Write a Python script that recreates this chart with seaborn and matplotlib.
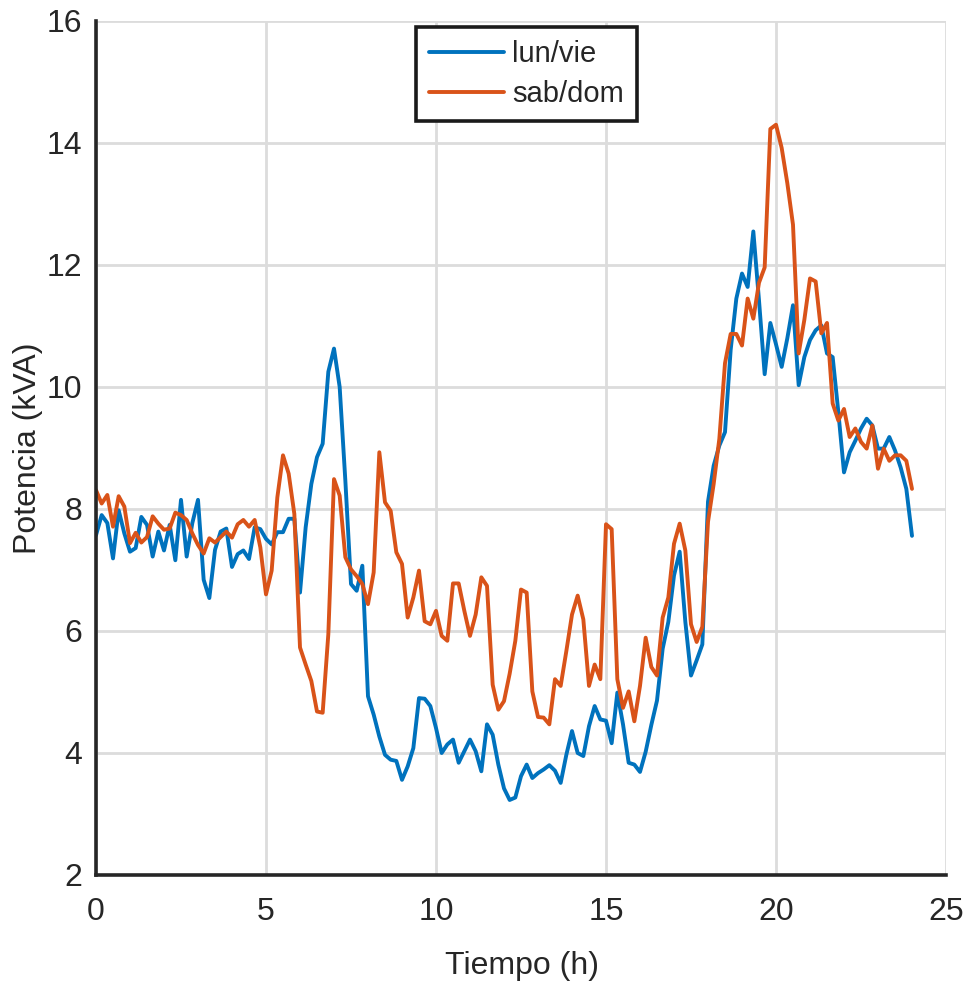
import numpy as np
import pandas as pd
import matplotlib
matplotlib.use("Agg")
import matplotlib.pyplot as plt
import seaborn as sns

# ---- data (10-min resolution, 0 h .. 24 h) ----
lun_vie = [
    7.57, 7.90, 7.77, 7.19, 7.98, 7.60, 7.30, 7.36, 7.87, 7.74,
    7.22, 7.63, 7.32, 7.74, 7.16, 8.15, 7.22, 7.77, 8.15, 6.84,
    6.54, 7.33, 7.63, 7.68, 7.05, 7.26, 7.32, 7.18, 7.70, 7.67,
    7.51, 7.42, 7.62, 7.62, 7.84, 7.84, 6.63, 7.70, 8.41, 8.85,
    9.07, 10.25, 10.63, 10.00, 8.47, 6.77, 6.66, 7.07, 4.93, 4.63,
    4.27, 3.97, 3.89, 3.87, 3.56, 3.78, 4.08, 4.90, 4.89, 4.77,
    4.41, 4.00, 4.14, 4.22, 3.84, 4.03, 4.22, 4.03, 3.70, 4.47,
    4.30, 3.81, 3.42, 3.23, 3.27, 3.62, 3.81, 3.59, 3.67, 3.73,
    3.80, 3.71, 3.51, 3.97, 4.36, 4.00, 3.95, 4.44, 4.77, 4.55,
    4.53, 4.16, 4.99, 4.47, 3.84, 3.81, 3.69, 4.02, 4.46, 4.86,
    5.71, 6.15, 6.91, 7.30, 6.15, 5.27, 5.52, 5.78, 8.12, 8.71,
    9.04, 9.26, 10.61, 11.45, 11.86, 11.64, 12.55, 11.42, 10.21, 11.05,
    10.70, 10.33, 10.80, 11.34, 10.03, 10.49, 10.77, 10.93, 11.01, 10.55,
    10.49, 9.59, 8.60, 8.93, 9.12, 9.32, 9.48, 9.37, 8.99, 8.99,
    9.18, 8.96, 8.68, 8.33, 7.56,
]
sab_dom = [
    8.31, 8.09, 8.23, 7.71, 8.21, 8.04, 7.44, 7.61, 7.45, 7.54,
    7.88, 7.76, 7.66, 7.68, 7.94, 7.90, 7.82, 7.60, 7.41, 7.27,
    7.52, 7.45, 7.54, 7.63, 7.53, 7.75, 7.82, 7.71, 7.82, 7.37,
    6.60, 6.99, 8.19, 8.88, 8.58, 7.92, 5.73, 5.45, 5.18, 4.68,
    4.66, 5.95, 8.49, 8.22, 7.21, 7.01, 6.90, 6.77, 6.44, 6.96,
    8.93, 8.11, 7.97, 7.29, 7.10, 6.22, 6.55, 6.99, 6.16, 6.11,
    6.33, 5.92, 5.84, 6.78, 6.78, 6.33, 5.92, 6.27, 6.88, 6.74,
    5.12, 4.71, 4.85, 5.30, 5.84, 6.68, 6.63, 5.01, 4.59, 4.58,
    4.47, 5.21, 5.10, 5.67, 6.27, 6.58, 6.19, 5.10, 5.45, 5.21,
    7.75, 7.67, 5.21, 4.74, 5.01, 4.52, 5.10, 5.89, 5.41, 5.27,
    6.22, 6.55, 7.43, 7.76, 7.32, 6.11, 5.82, 6.07, 7.79, 8.41,
    9.15, 10.39, 10.87, 10.87, 10.68, 11.45, 11.12, 11.71, 11.96, 14.23,
    14.30, 13.92, 13.34, 12.66, 10.55, 11.10, 11.78, 11.73, 10.88, 11.05,
    9.73, 9.45, 9.64, 9.18, 9.32, 9.10, 8.99, 9.37, 8.66, 8.99,
    8.79, 8.88, 8.88, 8.79, 8.33,
]
tiempo = [i / 6 for i in range(len(lun_vie))]
series_names = ["lun/vie", "sab/dom"]
x_ticks = [0, 5, 10, 15, 20, 25]
y_ticks = [2, 4, 6, 8, 10, 12, 14, 16]
x_label = "Tiempo (h)"
y_label = "Potencia (kVA)"

df = pd.DataFrame({
    "Tiempo": tiempo * 2,
    "Potencia": lun_vie + sab_dom,
    "Serie": [series_names[0]] * len(lun_vie) + [series_names[1]] * len(sab_dom),
})

sns.set_theme(style="white")
plt.rcParams["font.family"] = ["Liberation Sans", "DejaVu Sans"]

fig = plt.figure(figsize=(9.68, 9.83), dpi=100)
ax = fig.add_axes([96 / 968, 108 / 983, 850 / 968, 854 / 983])

sns.lineplot(data=df, x="Tiempo", y="Potencia", hue="Serie",
             palette=["#0072BD", "#D95319"], linewidth=2.8, ax=ax, zorder=3)

ax.set_xlim(0, 25)
ax.set_ylim(2, 16)
ax.set_xticks(x_ticks)
ax.set_yticks(y_ticks)
ax.set_xticklabels([str(t) for t in x_ticks])
ax.set_yticklabels([str(t) for t in y_ticks])
ax.grid(True, color="#dcdcdc", linewidth=2.0, zorder=0)
ax.set_axisbelow(True)

for side in ["top", "right"]:
    ax.spines[side].set_visible(False)
for side in ["left", "bottom"]:
    ax.spines[side].set_color("#262626")
    ax.spines[side].set_linewidth(2.6)
    ax.spines[side].set_zorder(4)

ax.tick_params(axis="both", direction="in", length=9, width=2.6,
               color="#262626", labelsize=23, labelcolor="#262626")
ax.tick_params(axis="x", pad=16)
ax.tick_params(axis="y", pad=10)

ax.set_xlabel(x_label, fontsize=23, color="#262626")
ax.set_ylabel(y_label, fontsize=23, color="#262626")
ax.xaxis.set_label_coords(0.501, -0.106)
ax.yaxis.set_label_coords(-0.08, 0.5)
ax.xaxis.label.set_va("center")
ax.yaxis.label.set_va("center")

leg = ax.legend(loc="upper center", bbox_to_anchor=(0.506, 0.993),
                borderaxespad=0, fontsize=21, frameon=True, fancybox=False,
                framealpha=1, edgecolor="#1a1a1a", handlelength=2.6,
                handletextpad=0.25, labelspacing=0.4, borderpad=0.45,
                title=None)
leg.get_frame().set_linewidth(2.6)
for line in leg.get_lines():
    line.set_linewidth(2.8)

fig.savefig("out.png", dpi=100)
